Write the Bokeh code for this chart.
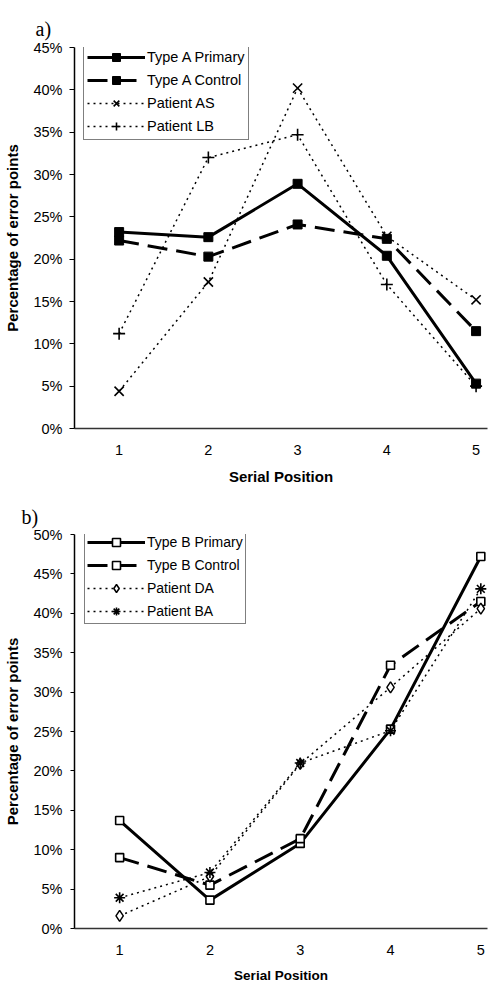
from bokeh.plotting import figure
from bokeh.layouts import column
from bokeh.models import (Range1d, FixedTicker, NumeralTickFormatter, Legend, LegendItem)
from bokeh.embed import file_html
from bokeh.resources import INLINE

positions = [1, 2, 3, 4, 5]
tick_labels = {1: "1", 2: "2", 3: "3", 4: "4", 5: "5"}

# Panel a (fractions of error points)
a_primary = [0.232, 0.226, 0.289, 0.204, 0.053]
a_control = [0.222, 0.203, 0.241, 0.224, 0.115]
a_patient_as = [0.044, 0.173, 0.402, 0.227, 0.152]
a_patient_lb = [0.112, 0.320, 0.347, 0.170, 0.050]

# Panel b
b_primary = [0.137, 0.036, 0.108, 0.253, 0.472]
b_control = [0.090, 0.055, 0.114, 0.334, 0.415]
b_patient_da = [0.016, 0.066, 0.209, 0.306, 0.406]
b_patient_ba = [0.039, 0.071, 0.210, 0.251, 0.431]

FONT = "Liberation Sans"
SERIF = "Liberation Serif"


def style(p, tick_fs, xlab_fs, ylab_fs, ytick_out, ystand, title_offset, title_standoff):
    p.xgrid.visible = False
    p.ygrid.visible = False
    p.outline_line_color = None
    p.background_fill_color = "white"
    p.border_fill_color = "white"
    p.title.text_font = SERIF
    p.title.text_font_size = "20px"
    p.title.text_font_style = "normal"
    p.title.text_color = "black"
    p.title.align = "left"
    p.title.offset = title_offset
    p.title.standoff = title_standoff
    xa = p.xaxis[0]
    ya = p.yaxis[0]
    xa.ticker = FixedTicker(ticks=positions)
    xa.major_label_overrides = tick_labels
    xa.major_tick_out = 0
    xa.major_tick_in = 0
    xa.minor_tick_out = 0
    xa.minor_tick_in = 0
    xa.axis_line_color = "#333333"
    xa.axis_line_width = 1.5
    xa.major_label_standoff = 16
    xa.axis_label = "Serial Position"
    xa.axis_label_text_font = FONT
    xa.axis_label_text_font_style = "bold"
    xa.axis_label_text_font_size = xlab_fs
    xa.axis_label_text_color = "black"
    xa.axis_label_standoff = 10
    xa.major_label_text_font = FONT
    xa.major_label_text_font_size = tick_fs
    xa.major_label_text_color = "black"

    ya.formatter = NumeralTickFormatter(format="0%")
    ya.major_tick_out = ytick_out
    ya.major_tick_in = 0
    ya.minor_tick_out = 0
    ya.minor_tick_in = 0
    ya.axis_line_color = "black"
    ya.axis_line_width = 1.5
    ya.major_tick_line_width = 1.2
    ya.major_label_standoff = ystand
    ya.axis_label = "Percentage of error points"
    ya.axis_label_text_font = FONT
    ya.axis_label_text_font_style = "bold"
    ya.axis_label_text_font_size = ylab_fs
    ya.axis_label_text_color = "black"
    ya.axis_label_standoff = 9
    ya.major_label_text_font = FONT
    ya.major_label_text_font_size = tick_fs
    ya.major_label_text_color = "black"


# ---------------- Panel a ----------------
pa = figure(width=503, height=490, output_backend="svg", toolbar_location=None,
            title="a)",
            x_range=Range1d(0.5, 5.128), y_range=Range1d(0, 0.45),
            min_border_left=74, min_border_right=0, min_border_top=47, min_border_bottom=62)
style(pa, "14.5px", "15px", "15px", 5, 7, -39, 15)
pa.yaxis[0].ticker = FixedTicker(ticks=[i * 0.05 for i in range(10)])

l1 = pa.line(positions, a_primary, line_color="black", line_width=3)
s1 = pa.scatter(positions, a_primary, marker="square", size=9, fill_color="black", line_color="black")
l2 = pa.line(positions, a_control, line_color="black", line_width=3, line_dash="20 9")
s2 = pa.scatter(positions, a_control, marker="square", size=9, fill_color="black", line_color="black")
l3 = pa.line(positions, a_patient_as, line_color="black", line_width=1.5, line_dash="2 4")
s3 = pa.scatter(positions, a_patient_as, marker="x", size=13, line_color="black", line_width=1.6)
l4 = pa.line(positions, a_patient_lb, line_color="black", line_width=1.5, line_dash="2 4")
s4 = pa.scatter(positions, a_patient_lb, marker="cross", size=12, line_color="black", line_width=1.6)

leg_a = Legend(items=[
    LegendItem(label="Type A Primary", renderers=[l1, s1]),
    LegendItem(label="Type A Control", renderers=[l2, s2]),
    LegendItem(label="Patient AS", renderers=[l3, s3]),
    LegendItem(label="Patient LB", renderers=[l4, s4]),
], location=(9, 288), glyph_width=58, glyph_height=20, label_height=20,
    spacing=3, padding=3, margin=0, label_standoff=2,
    label_text_font=FONT, label_text_font_size="14.5px", label_text_color="black",
    border_line_color="black", border_line_width=1.2,
    background_fill_color="white", background_fill_alpha=1.0)
pa.add_layout(leg_a, "center")

# ---------------- Panel b ----------------
pb = figure(width=503, height=495, output_backend="svg", toolbar_location=None,
            title="b)",
            x_range=Range1d(0.5, 5.074), y_range=Range1d(0, 0.5),
            min_border_left=67, min_border_right=16, min_border_top=44, min_border_bottom=57)
style(pb, "14.5px", "13.5px", "15px", 4, 8, -53, 14)
pb.yaxis[0].ticker = FixedTicker(ticks=[i * 0.05 for i in range(11)])

m1 = pb.line(positions, b_primary, line_color="black", line_width=3)
t1 = pb.scatter(positions, b_primary, marker="square", size=8, fill_color="white", line_color="black", line_width=1.6)
m2 = pb.line(positions, b_control, line_color="black", line_width=3, line_dash="20 9")
t2 = pb.scatter(positions, b_control, marker="square", size=8, fill_color="white", line_color="black", line_width=1.6)
m3 = pb.line(positions, b_patient_da, line_color="black", line_width=1.5, line_dash="2 4")
t3 = pb.scatter(positions, b_patient_da, marker="diamond", size=11, fill_color="white", line_color="black", line_width=1.5)
m4 = pb.line(positions, b_patient_ba, line_color="black", line_width=1.5, line_dash="2 4")
t4 = pb.scatter(positions, b_patient_ba, marker="asterisk", size=11, line_color="black", line_width=1.6)

leg_b = Legend(items=[
    LegendItem(label="Type B Primary", renderers=[m1, t1]),
    LegendItem(label="Type B Control", renderers=[m2, t2]),
    LegendItem(label="Patient DA", renderers=[m3, t3]),
    LegendItem(label="Patient BA", renderers=[m4, t4]),
], location=(10, 304), glyph_width=58, glyph_height=20, label_height=20,
    spacing=3, padding=2, margin=0, label_standoff=2,
    label_text_font=FONT, label_text_font_size="14px", label_text_color="black",
    border_line_color="black", border_line_width=1.2,
    background_fill_color="white", background_fill_alpha=1.0)
pb.add_layout(leg_b, "center")

layout = column(pa, pb, spacing=0)
open("out.html", "w").write(file_html(layout, INLINE))
